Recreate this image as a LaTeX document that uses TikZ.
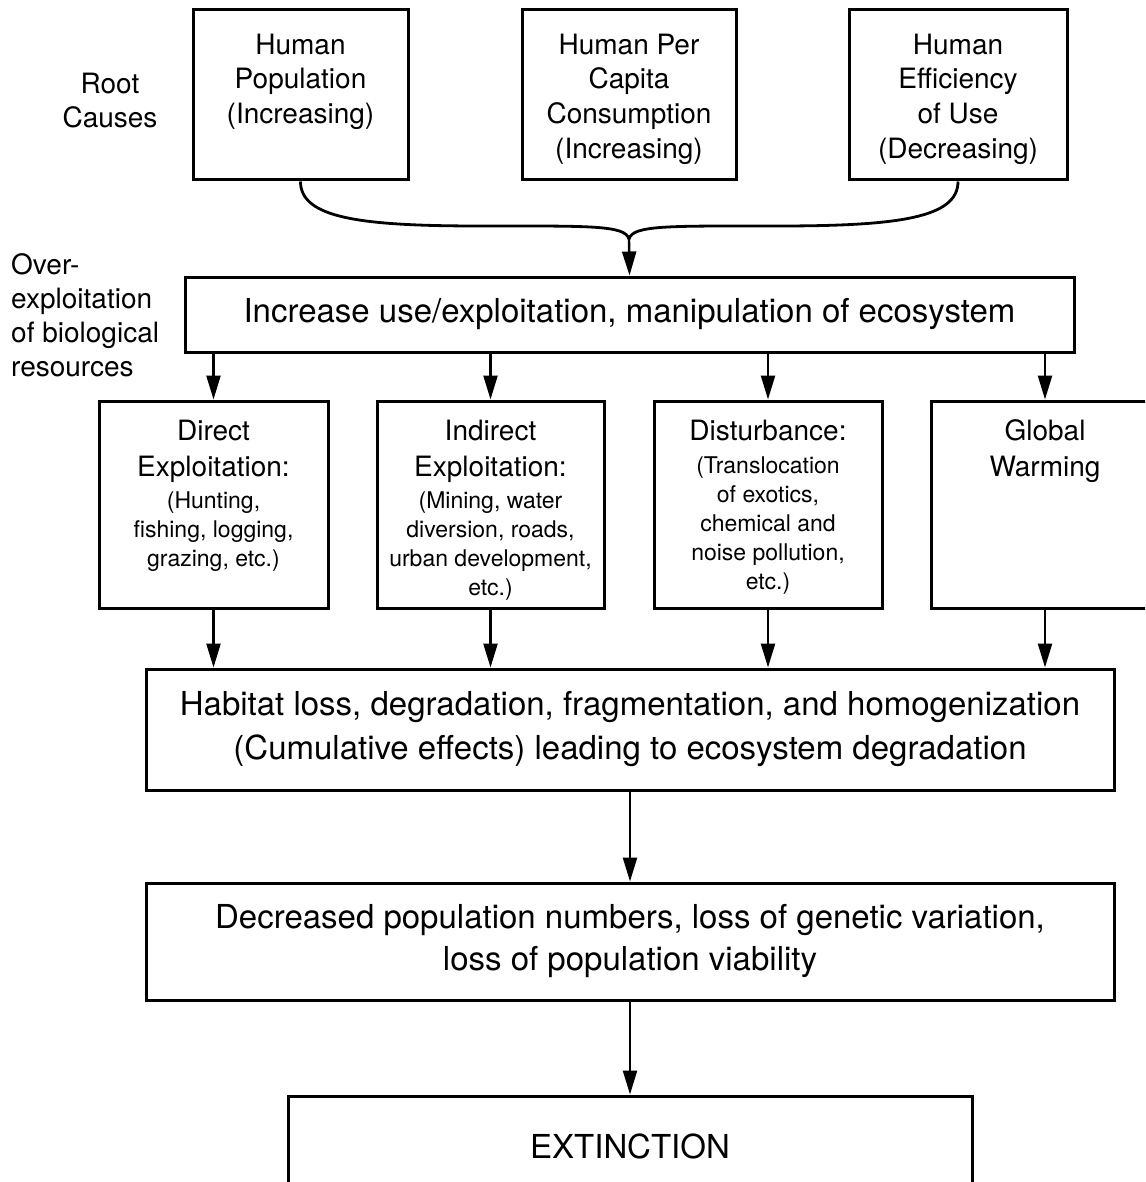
\documentclass[tikz,border=0pt]{standalone}
\usepackage{fontspec}
\setmainfont{TeX Gyre Heros}
\usetikzlibrary{arrows.meta,calc}
\newcommand\myBig{\fontsize{33}{44}\selectfont}
\newcommand\myMid{\fontsize{28}{34.7}\selectfont}
\newcommand\myTitle{\fontsize{28}{36}\selectfont}
\newcommand\mySmall{\fontsize{23}{29}\selectfont}
\begin{document}
\begin{tikzpicture}[x=1pt,y=-1pt,
  box/.style={draw, line width=3pt, inner sep=0pt, align=center},
  txt/.style={inner sep=0pt, align=center},
  arr/.style={line width=2.4pt, -{Triangle[length=24pt,width=14pt]}},
  curve/.style={line width=2.8pt}]
\clip (0,0) rectangle (1145,1182);
\fill[white] (0,0) rectangle (1145,1182);

% root causes
\node[box, minimum width=215pt, minimum height=170pt] (hp) at (300.5,95) {};
\node[box, minimum width=214pt, minimum height=170pt] (hc) at (629,95) {};
\node[box, minimum width=218pt, minimum height=170pt] (he) at (958,95) {};
\node[txt, font=\myMid, anchor=north] (hpt) at (300.5,33.6) {Human\\Population\\(Increasing)};
\node[txt, font=\myMid, anchor=north] (hct) at (629,33.6) {Human Per\\Capita\\Consumption\\(Increasing)};
\node[txt, font=\myMid, anchor=north] (het) at (958,33.6) {Human\\Efficiency\\of Use\\(Decreasing)};
\node[txt, font=\fontsize{28}{34}\selectfont, anchor=north] (rc) at (110,72.6) {Root\\Causes};
\node[inner sep=0pt, align=left, font=\fontsize{28}{34}\selectfont, anchor=north west] (oe) at (11,253.6) {Over-\\exploitation\\of biological\\resources};

% main box
\node[box, minimum width=889pt, minimum height=75pt, font=\myBig] (main) at (629.5,314.5) {Increase use/exploitation, manipulation of ecosystem};

\coordinate (mg) at (629,239);
\draw[curve] (hp.south) .. controls (300.5,218) and (360,226) .. (480,226)
   .. controls (590,226) and (625,225) .. (mg);
\draw[curve] (he.south) .. controls (958,218) and (898,226) .. (778,226)
   .. controls (668,226) and (633,225) .. (mg);
\draw[arr] (mg) -- (main.north);

% middle boxes
\node[box, minimum width=229pt, minimum height=207pt] (da) at (213.5,504.5) {};
\node[box, minimum width=227pt, minimum height=207pt] (ia) at (490.5,504.5) {};
\node[box, minimum width=228pt, minimum height=207pt] (di) at (768,504.5) {};
\node[box, minimum width=228pt, minimum height=207pt] (gw) at (1045,504.5) {};

\node[txt, font=\myTitle, anchor=north] (dat) at (213.5,419.6) {Direct\\Exploitation:};
\node[txt, font=\mySmall, anchor=north] (das) at (213.5,491.5) {(Hunting,\\fishing, logging,\\grazing, etc.)};
\node[txt, font=\myTitle, anchor=north] (iat) at (490.5,419.6) {Indirect\\Exploitation:};
\node[txt, font=\mySmall, anchor=north] (ias) at (490.5,491.5) {(Mining, water\\diversion, roads,\\urban development,\\etc.)};
\node[txt, font=\myTitle, anchor=north] (dit) at (768,419.6) {Disturbance:};
\node[txt, font=\mySmall, anchor=north] (dis) at (768,456.5) {(Translocation\\of exotics,\\chemical and\\noise pollution,\\etc.)};
\node[txt, font=\myTitle, anchor=north] (gwt) at (1045,419.6) {Global\\Warming};

\foreach \n in {da,ia,di,gw}{
  \draw[arr] (\n.north |- main.south) -- (\n.north);
}

% lower chain
\node[box, minimum width=968pt, minimum height=121pt, font=\myBig] (hab) at (630,729.5) {Habitat loss, degradation, fragmentation, and homogenization\\(Cumulative effects) leading to ecosystem degradation};
\node[box, minimum width=968pt, minimum height=117pt, font=\fontsize{33}{42}\selectfont] (dec) at (630,941.5) {Decreased population numbers, loss of genetic variation,\\loss of population viability};
\node[box, minimum width=684pt, minimum height=100pt, font=\myBig] (ext) at (630,1146) {EXTINCTION};

\foreach \n in {da,ia,di,gw}{
  \draw[arr] (\n.south) -- (\n.south |- hab.north);
}
\draw[arr] (hab.south) -- (dec.north);
\draw[arr] (dec.south) -- (ext.north);
\end{tikzpicture}
\end{document}
